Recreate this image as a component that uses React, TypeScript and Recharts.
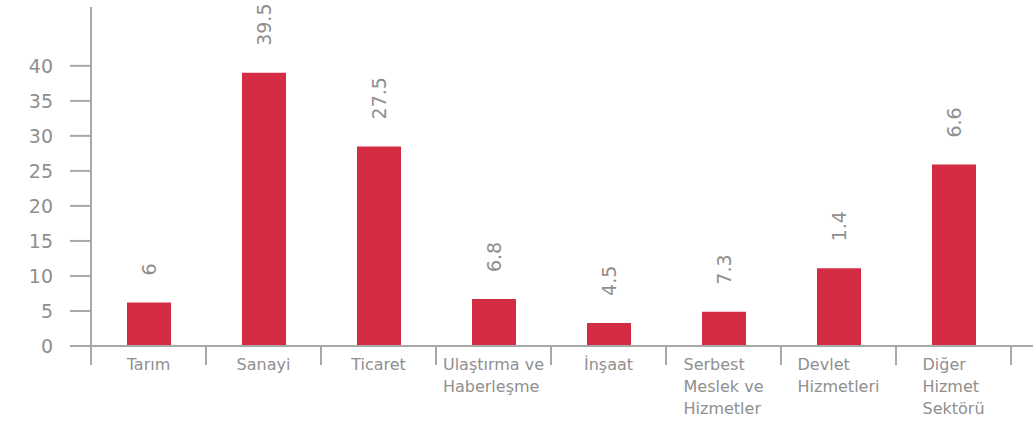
import { BarChart, Bar, XAxis, YAxis, LabelList } from 'recharts'

const categories = [
  'Tarım',
  'Sanayi',
  'Ticaret',
  'Ulaştırma ve\nHaberleşme',
  'İnşaat',
  'Serbest\nMeslek ve\nHizmetler',
  'Devlet\nHizmetleri',
  'Diğer\nHizmet\nSektörü',
]
const heights = [6.2, 39, 28.5, 6.7, 3.3, 4.9, 11.1, 25.9]
const shownLabels = ['6', '39.5', '27.5', '6.8', '4.5', '7.3', '1.4', '6.6']
const yTicks = [0, 5, 10, 15, 20, 25, 30, 35, 40]

const data = categories.map((name, i) => ({ name, value: heights[i], label: shownLabels[i] }))

const GREY = '#a8a8a8'
const TEXT = '#8f8f8f'
const FONT = '"DejaVu Sans", sans-serif'
const BAND = 115

function CategoryTick(props: any) {
  const { x, y, payload, index } = props
  const last = index === categories.length - 1
  return (
    <g>
      <line x1={x - BAND / 2} x2={x - BAND / 2} y1={y} y2={y + 19} stroke={GREY} strokeWidth={2} />
      {last && <line x1={x + BAND / 2} x2={x + BAND / 2} y1={y} y2={y + 19} stroke={GREY} strokeWidth={2} />}
      <foreignObject x={x - BAND / 2} y={y + 8} width={BAND} height={70}>
        <div style={{ textAlign: 'center', fontFamily: FONT, fontSize: 16, lineHeight: '22px', color: TEXT }}>
          <span style={{ display: 'inline-block', textAlign: 'left', whiteSpace: 'pre' }}>{payload.value}</span>
        </div>
      </foreignObject>
    </g>
  )
}

function BarValue(props: any) {
  const { x, y, width, value } = props
  const cx = x + width / 2
  const ty = y - 27
  return (
    <text
      x={cx}
      y={ty}
      transform={`rotate(-90 ${cx} ${ty})`}
      textAnchor="start"
      dominantBaseline="central"
      fill={TEXT}
      fontFamily={FONT}
      fontSize={19}
    >
      {value}
    </text>
  )
}

export default function App() {
  return (
    <div style={{ position: 'absolute', left: 0, top: 0, width: 1033, height: 422, background: '#fff' }}>
      <BarChart width={1033} height={422} data={data} margin={{ top: 7, right: 0, bottom: 0, left: 0 }}>
        <XAxis
          dataKey="name"
          height={76}
          padding={{ left: 0, right: 22 }}
          axisLine={{ stroke: GREY, strokeWidth: 2 }}
          tickLine={false}
          tickSize={0}
          tickMargin={0}
          interval={0}
          tick={<CategoryTick />}
        />
        <YAxis
          width={91}
          domain={[0, 48.4]}
          ticks={yTicks}
          allowDataOverflow
          axisLine={{ stroke: GREY, strokeWidth: 2 }}
          tickLine={{ stroke: GREY, strokeWidth: 2 }}
          tickSize={21}
          tickMargin={17}
          tick={{ fill: TEXT, fontSize: 19, fontFamily: FONT }}
        />
        <Bar dataKey="value" fill="#d42c43" barSize={44} isAnimationActive={false}>
          <LabelList dataKey="label" content={<BarValue />} />
        </Bar>
      </BarChart>
    </div>
  )
}
